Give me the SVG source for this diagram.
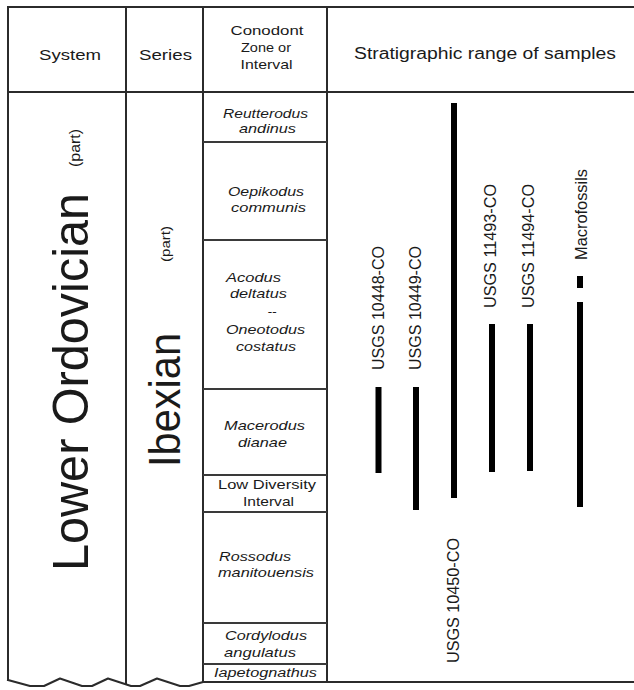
<svg xmlns="http://www.w3.org/2000/svg" width="634" height="690" viewBox="0 0 634 690">
<style>
.ln{stroke:#2b2b2b;stroke-width:2;fill:none;stroke-linecap:square;stroke-linejoin:round}
.zl{stroke:#3a3a3a;stroke-width:2;fill:none}
.bar{stroke:#000;stroke-width:6;fill:none}
text{font-family:"Liberation Sans",Arial,sans-serif;fill:#1a1a1a}
.hd{font-size:15.5px;text-anchor:middle}
.hs{font-size:13.5px;text-anchor:middle}
.zn{font-size:13.5px;font-style:italic;text-anchor:middle}
.zr{font-size:13.5px;text-anchor:middle}
.lab{font-size:16px;text-anchor:start}
</style>
<rect width="634" height="690" fill="#fff"/>
<g id="frame">
<line class="ln" x1="8" y1="7" x2="634" y2="7"/>
<line class="ln" x1="8" y1="92" x2="634" y2="92"/>
<line class="ln" x1="8" y1="7" x2="8" y2="680"/>
<line class="ln" x1="126" y1="7" x2="126" y2="684"/>
<line class="ln" x1="203" y1="7" x2="203" y2="682"/>
<line class="ln" x1="327" y1="7" x2="327" y2="682"/>
<line class="ln" x1="203" y1="682" x2="634" y2="682"/>
<path class="ln" d="M8,680 L30,686 L44,686 L60,678.5 L82,686 L92,686 L108,678.5 L131,686 L140,686 L157,678.5 L180,686 L189,686 L203,682"/>
</g>
<g id="header">
<text class="hd" x="70" y="60" textLength="62" lengthAdjust="spacingAndGlyphs">System</text>
<text class="hd" x="165.5" y="60" textLength="53" lengthAdjust="spacingAndGlyphs">Series</text>
<text class="hs" x="267" y="35" textLength="73" lengthAdjust="spacingAndGlyphs">Conodont</text>
<text class="hs" x="266" y="52" textLength="50" lengthAdjust="spacingAndGlyphs">Zone or</text>
<text class="hs" x="266.5" y="69" textLength="52" lengthAdjust="spacingAndGlyphs">Interval</text>
<text class="hd" x="485" y="59" style="font-size:16px" textLength="262" lengthAdjust="spacingAndGlyphs">Stratigraphic range of samples</text>
</g>
<g id="system">
<text transform="translate(88,382) rotate(-90)" style="font-size:50px;text-anchor:middle" textLength="378" lengthAdjust="spacingAndGlyphs">Lower Ordovician</text>
<text transform="translate(80,148) rotate(-90)" style="font-size:14px;text-anchor:middle" textLength="38" lengthAdjust="spacingAndGlyphs">(part)</text>
</g>
<g id="series">
<text transform="translate(180,400) rotate(-90)" style="font-size:44px;text-anchor:middle" textLength="134" lengthAdjust="spacingAndGlyphs">Ibexian</text>
<text transform="translate(170,244) rotate(-90)" style="font-size:13px;text-anchor:middle" textLength="36" lengthAdjust="spacingAndGlyphs">(part)</text>
</g>
<g id="zones">
<line class="zl" x1="203" y1="142" x2="327" y2="142"/>
<line class="zl" x1="203" y1="240" x2="327" y2="240"/>
<line class="zl" x1="203" y1="389" x2="327" y2="389"/>
<line class="zl" x1="203" y1="475" x2="327" y2="475"/>
<line class="zl" x1="203" y1="512" x2="327" y2="512"/>
<line class="zl" x1="203" y1="623" x2="327" y2="623"/>
<line class="zl" x1="203" y1="664" x2="327" y2="664"/>
</g>
<g id="zone-reutterodus">
<text class="zn" x="265.5" y="118" textLength="85" lengthAdjust="spacingAndGlyphs">Reutterodus</text>
<text class="zn" x="267.5" y="133" textLength="57" lengthAdjust="spacingAndGlyphs">andinus</text>
</g>
<g id="zone-oepikodus">
<text class="zn" x="266" y="196" textLength="76" lengthAdjust="spacingAndGlyphs">Oepikodus</text>
<text class="zn" x="268.5" y="212" textLength="75" lengthAdjust="spacingAndGlyphs">communis</text>
</g>
<g id="zone-acodus">
<text class="zn" x="253.5" y="282" textLength="55" lengthAdjust="spacingAndGlyphs">Acodus</text>
<text class="zn" x="258.5" y="298" textLength="57" lengthAdjust="spacingAndGlyphs">deltatus</text>
<text class="zn" x="272" y="316">--</text>
<text class="zn" x="265.5" y="334" textLength="79" lengthAdjust="spacingAndGlyphs">Oneotodus</text>
<text class="zn" x="266" y="351" textLength="60" lengthAdjust="spacingAndGlyphs">costatus</text>
</g>
<g id="zone-macerodus">
<text class="zn" x="264.5" y="430" textLength="81" lengthAdjust="spacingAndGlyphs">Macerodus</text>
<text class="zn" x="262.5" y="447" textLength="49" lengthAdjust="spacingAndGlyphs">dianae</text>
</g>
<g id="zone-low-diversity">
<text class="zr" x="267" y="489" textLength="98" lengthAdjust="spacingAndGlyphs">Low Diversity</text>
<text class="zr" x="268.5" y="506" textLength="51" lengthAdjust="spacingAndGlyphs">Interval</text>
</g>
<g id="zone-rossodus">
<text class="zn" x="255" y="561" textLength="72" lengthAdjust="spacingAndGlyphs">Rossodus</text>
<text class="zn" x="266" y="577" textLength="96" lengthAdjust="spacingAndGlyphs">manitouensis</text>
</g>
<g id="zone-cordylodus">
<text class="zn" x="266" y="640" textLength="82" lengthAdjust="spacingAndGlyphs">Cordylodus</text>
<text class="zn" x="260" y="657" textLength="72" lengthAdjust="spacingAndGlyphs">angulatus</text>
</g>
<g id="zone-iapetognathus">
<text class="zn" x="265.5" y="677" style="font-size:12.5px" textLength="103" lengthAdjust="spacingAndGlyphs">Iapetognathus</text>
</g>
<g id="connectors">
<line class="bar" x1="378.5" y1="387" x2="378.5" y2="473"/>
<line class="bar" x1="416" y1="387" x2="416" y2="510"/>
<line class="bar" x1="454" y1="103" x2="454" y2="498"/>
<line class="bar" x1="492" y1="324" x2="492" y2="472"/>
<line class="bar" x1="530" y1="324" x2="530" y2="471"/>
<line class="bar" x1="580" y1="276" x2="580" y2="288"/>
<line class="bar" x1="580" y1="302" x2="580" y2="507"/>
</g>
<g id="sample-10448"><text class="lab" transform="translate(384,370) rotate(-90)" textLength="124" lengthAdjust="spacingAndGlyphs">USGS 10448-CO</text></g>
<g id="sample-10449"><text class="lab" transform="translate(421,370) rotate(-90)" textLength="124" lengthAdjust="spacingAndGlyphs">USGS 10449-CO</text></g>
<g id="sample-10450"><text class="lab" transform="translate(459,663) rotate(-90)" textLength="125" lengthAdjust="spacingAndGlyphs">USGS 10450-CO</text></g>
<g id="sample-11493"><text class="lab" transform="translate(496,308) rotate(-90)" textLength="124" lengthAdjust="spacingAndGlyphs">USGS 11493-CO</text></g>
<g id="sample-11494"><text class="lab" transform="translate(534,308) rotate(-90)" textLength="124" lengthAdjust="spacingAndGlyphs">USGS 11494-CO</text></g>
<g id="macrofossils"><text class="lab" transform="translate(587,260) rotate(-90)" textLength="91" lengthAdjust="spacingAndGlyphs">Macrofossils</text></g>
</svg>
